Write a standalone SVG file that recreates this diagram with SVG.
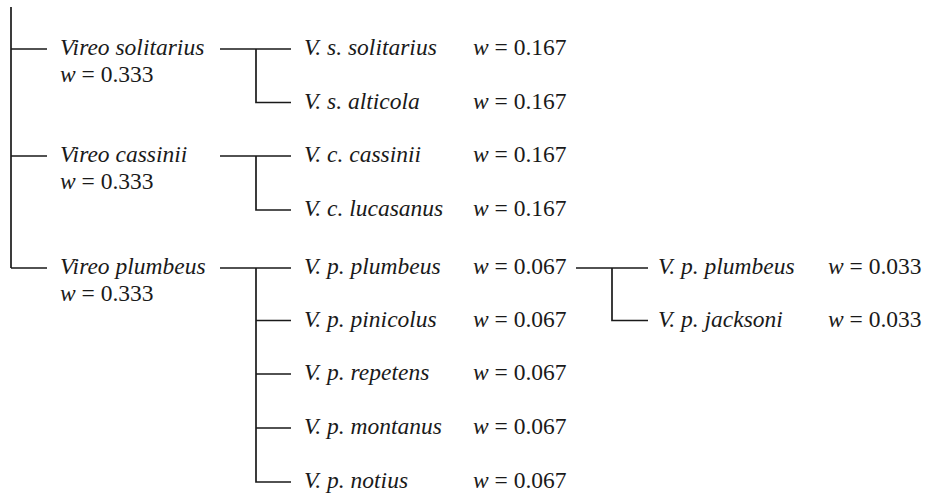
<svg xmlns="http://www.w3.org/2000/svg" width="932" height="495" viewBox="0 0 932 495">
<style>
.ln{stroke:#1a1a1a;stroke-width:1.7;fill:none}
text{font-size:23.5px;fill:#1a1a1a}
.it{font-style:italic}
</style>
<rect width="932" height="495" fill="#fff"/>
<g id="connectors">
<path class="ln" d="M11,7 V268 M11,49 H47 M11,156 H47 M11,268 H47"/>
<path class="ln" d="M220,49 H291 M256,49 V102.5 H291"/>
<path class="ln" d="M220,156 H291 M256,156 V210 H291"/>
<path class="ln" d="M220,268 H291 M256,268 V482 H291 M256,320.5 H291 M256,374 H291 M256,428 H291"/>
<path class="ln" d="M576,268 H648 M612,268 V320.5 H648"/>
</g>
<g font-family="Liberation Serif, DejaVu Serif, serif">
<g id="n-solitarius"><text x="60" y="55" class="it">Vireo solitarius</text><text x="60" y="82"><tspan class="it">w</tspan> = 0.333</text></g>
<g id="n-cassinii"><text x="60" y="162" class="it">Vireo cassinii</text><text x="60" y="189"><tspan class="it">w</tspan> = 0.333</text></g>
<g id="n-plumbeus"><text x="60" y="274" class="it">Vireo plumbeus</text><text x="60" y="301"><tspan class="it">w</tspan> = 0.333</text></g>
<g id="n-vss"><text x="304" y="55" class="it">V. s. solitarius</text><text x="473" y="55"><tspan class="it">w</tspan> = 0.167</text></g>
<g id="n-vsa"><text x="304" y="108.5" class="it">V. s. alticola</text><text x="473" y="108.5"><tspan class="it">w</tspan> = 0.167</text></g>
<g id="n-vcc"><text x="304" y="162" class="it">V. c. cassinii</text><text x="473" y="162"><tspan class="it">w</tspan> = 0.167</text></g>
<g id="n-vcl"><text x="304" y="216" class="it">V. c. lucasanus</text><text x="473" y="216"><tspan class="it">w</tspan> = 0.167</text></g>
<g id="n-vpp"><text x="304" y="274" class="it">V. p. plumbeus</text><text x="473" y="274"><tspan class="it">w</tspan> = 0.067</text></g>
<g id="n-vppi"><text x="304" y="326.5" class="it">V. p. pinicolus</text><text x="473" y="326.5"><tspan class="it">w</tspan> = 0.067</text></g>
<g id="n-vpr"><text x="304" y="380" class="it">V. p. repetens</text><text x="473" y="380"><tspan class="it">w</tspan> = 0.067</text></g>
<g id="n-vpm"><text x="304" y="434" class="it">V. p. montanus</text><text x="473" y="434"><tspan class="it">w</tspan> = 0.067</text></g>
<g id="n-vpn"><text x="304" y="488" class="it">V. p. notius</text><text x="473" y="488"><tspan class="it">w</tspan> = 0.067</text></g>
<g id="n-vpp2"><text x="658" y="274" class="it">V. p. plumbeus</text><text x="828" y="274"><tspan class="it">w</tspan> = 0.033</text></g>
<g id="n-vpj"><text x="658" y="326.5" class="it">V. p. jacksoni</text><text x="828" y="326.5"><tspan class="it">w</tspan> = 0.033</text></g>
</g>
</svg>
